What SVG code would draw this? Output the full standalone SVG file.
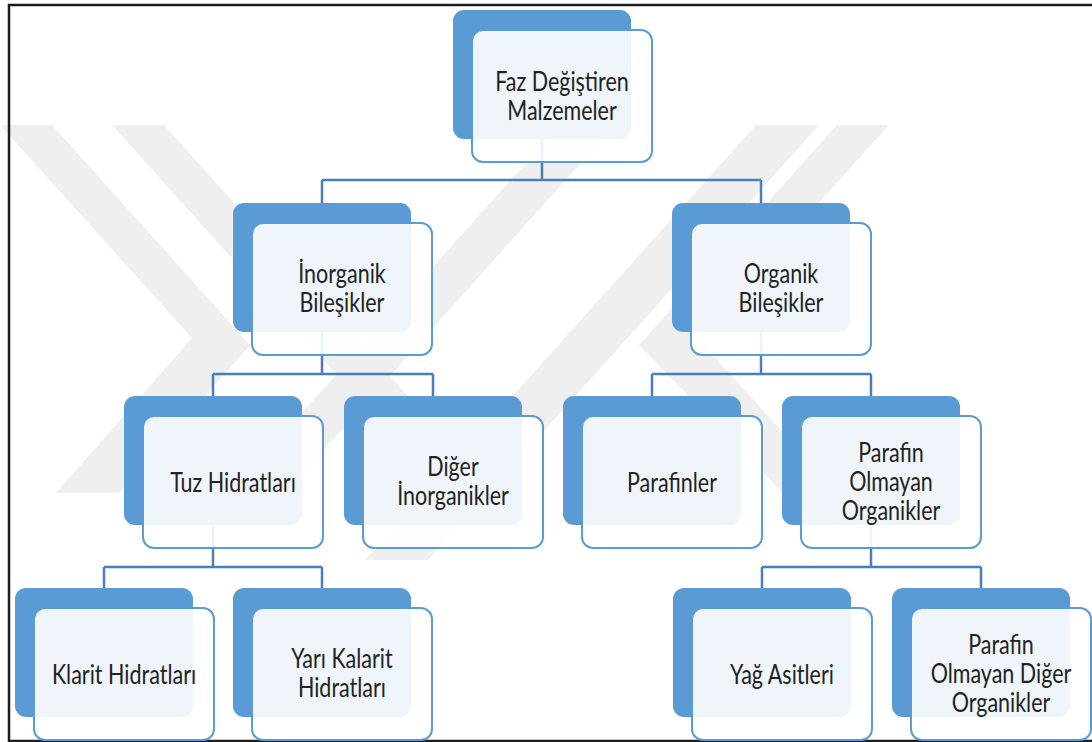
<svg xmlns="http://www.w3.org/2000/svg" width="1092" height="742" viewBox="0 0 1092 742">
  <style>
    .wm { fill: #efefef; }
    .back { fill: #5b9bd5; }
    .front { fill: #ffffff; fill-opacity: 0.9; stroke: #5b9bd5; stroke-width: 2; }
    .link { fill: none; stroke: #4a7ebb; stroke-width: 2.5; }
    .label { font-family: Lato, "Open Sans", sans-serif; font-size: 21.5px; fill: #222222; text-anchor: middle; }
    .frame { fill: none; stroke: #1e1e1e; stroke-width: 2.5; }
  </style>

  <rect width="1092" height="742" fill="#ffffff"/>

  <!-- background watermark bands -->
  <g id="watermark">
    <polygon class="wm" points="0,125 52,125 250,345 119,493 56,493 192,338"/>
    <polygon class="wm" points="112,125 164,125 495,493 443,493"/>
    <polygon class="wm" points="560,125 615,125 285,493 230,493"/>
    <polygon class="wm" points="756,125 819,125 428,560 365,560"/>
    <polygon class="wm" points="889,125 837,125 639,345 790,500 845,500 697,338"/>
  </g>

  <!-- outer frame -->
  <path class="frame" d="M1094,5 H9 V741 H1094"/>

  <!-- tree connectors -->
  <g id="connectors">
    <path class="link" d="M542,138 V180 M322,180 H761 M322,180 V203 M761,180 V203"/>
    <path class="link" d="M322,332 V374 M213,374 H433 M213,374 V396 M433,374 V396"/>
    <path class="link" d="M761,332 V374 M652,374 H871 M652,374 V396 M871,374 V396"/>
    <path class="link" d="M213,525 V567 M104,567 H322 M104,567 V588 M322,567 V588"/>
    <path class="link" d="M871,525 V567 M762,567 H981 M762,567 V588 M981,567 V588"/>
  </g>

  <!-- labels are drawn at scale(1,1.24); line pitch 23.4 ≈ 29px on screen -->
  <g id="node-faz">
    <rect class="back" x="453" y="10" width="178" height="129" rx="11"/>
    <rect class="front" x="472" y="30" width="180" height="132" rx="11"/>
    <g transform="translate(562,96) scale(1,1.24)">
      <text class="label"><tspan x="0" y="-4">Faz Değiştiren</tspan><tspan x="0" y="19.4">Malzemeler</tspan></text>
    </g>
  </g>

  <g id="node-inorganik">
    <rect class="back" x="233" y="203" width="178" height="129" rx="11"/>
    <rect class="front" x="252" y="223" width="180" height="132" rx="11"/>
    <g transform="translate(342,288) scale(1,1.24)">
      <text class="label"><tspan x="0" y="-4">İnorganik</tspan><tspan x="0" y="19.4">Bileşikler</tspan></text>
    </g>
  </g>

  <g id="node-organik">
    <rect class="back" x="672" y="203" width="178" height="129" rx="11"/>
    <rect class="front" x="691" y="223" width="180" height="132" rx="11"/>
    <g transform="translate(781,288) scale(1,1.24)">
      <text class="label"><tspan x="0" y="-4">Organik</tspan><tspan x="0" y="19.4">Bileşikler</tspan></text>
    </g>
  </g>

  <g id="node-tuz">
    <rect class="back" x="124" y="396" width="178" height="129" rx="11"/>
    <rect class="front" x="143" y="416" width="180" height="132" rx="11"/>
    <g transform="translate(233,482) scale(1,1.24)">
      <text class="label"><tspan x="0" y="7.7">Tuz Hidratları</tspan></text>
    </g>
  </g>

  <g id="node-diger-inorganik">
    <rect class="back" x="344" y="396" width="178" height="129" rx="11"/>
    <rect class="front" x="363" y="416" width="180" height="132" rx="11"/>
    <g transform="translate(453,481) scale(1,1.24)">
      <text class="label"><tspan x="0" y="-4">Diğer</tspan><tspan x="0" y="19.4">İnorganikler</tspan></text>
    </g>
  </g>

  <g id="node-parafinler">
    <rect class="back" x="563" y="396" width="178" height="129" rx="11"/>
    <rect class="front" x="582" y="416" width="180" height="132" rx="11"/>
    <g transform="translate(672,482) scale(1,1.24)">
      <text class="label"><tspan x="0" y="7.7">Parafinler</tspan></text>
    </g>
  </g>

  <g id="node-parafin-olmayan">
    <rect class="back" x="782" y="396" width="178" height="129" rx="11"/>
    <rect class="front" x="801" y="416" width="180" height="132" rx="11"/>
    <g transform="translate(891,481) scale(1,1.24)">
      <text class="label"><tspan x="0" y="-15.7">Parafin</tspan><tspan x="0" y="7.7">Olmayan</tspan><tspan x="0" y="31.1">Organikler</tspan></text>
    </g>
  </g>

  <g id="node-klarit">
    <rect class="back" x="15" y="588" width="178" height="129" rx="11"/>
    <rect class="front" x="34" y="608" width="180" height="132" rx="11"/>
    <g transform="translate(124,674) scale(1,1.24)">
      <text class="label"><tspan x="0" y="7.7">Klarit Hidratları</tspan></text>
    </g>
  </g>

  <g id="node-yari-kalarit">
    <rect class="back" x="233" y="588" width="178" height="129" rx="11"/>
    <rect class="front" x="252" y="608" width="180" height="132" rx="11"/>
    <g transform="translate(342,673) scale(1,1.24)">
      <text class="label"><tspan x="0" y="-4">Yarı Kalarit</tspan><tspan x="0" y="19.4">Hidratları</tspan></text>
    </g>
  </g>

  <g id="node-yag-asitleri">
    <rect class="back" x="673" y="588" width="178" height="129" rx="11"/>
    <rect class="front" x="692" y="608" width="180" height="132" rx="11"/>
    <g transform="translate(782,674) scale(1,1.24)">
      <text class="label"><tspan x="0" y="7.7">Yağ Asitleri</tspan></text>
    </g>
  </g>

  <g id="node-parafin-olmayan-diger">
    <rect class="back" x="892" y="588" width="178" height="129" rx="11"/>
    <rect class="front" x="911" y="608" width="180" height="132" rx="11"/>
    <g transform="translate(1001,673) scale(1,1.24)">
      <text class="label"><tspan x="0" y="-15.7">Parafin</tspan><tspan x="0" y="7.7">Olmayan Diğer</tspan><tspan x="0" y="31.1">Organikler</tspan></text>
    </g>
  </g>
</svg>
